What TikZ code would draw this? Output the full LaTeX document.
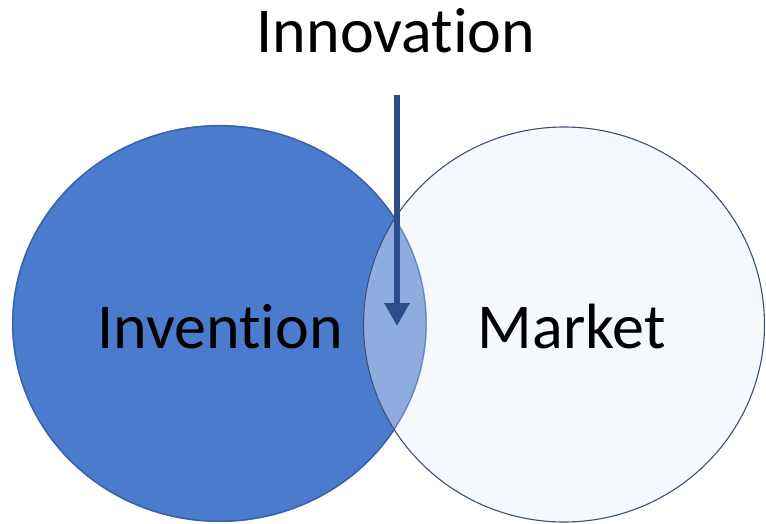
\documentclass[tikz,border=0pt]{standalone}
\usepackage{fontspec}
\setmainfont{Carlito}[Ligatures={NoCommon,NoRequired,NoContextual}]
\usetikzlibrary{arrows.meta,shadings}
\definecolor{invblue}{RGB}{74,123,205}
\definecolor{invedge}{RGB}{52,88,150}
\definecolor{mktfill}{RGB}{245,248,252}
\definecolor{mktedge}{RGB}{62,80,118}
\definecolor{overlap}{RGB}{143,172,224}
\definecolor{arrowblue}{RGB}{44,76,138}
\tikzset{
  lbl/.style={font=\fontsize{64}{70}\selectfont, anchor=base, inner sep=0pt, text=black},
}
\begin{document}
\begin{tikzpicture}[x=1pt,y=-1pt]
\useasboundingbox (0,0) rectangle (766,524);
% left circle (Invention)
\fill[invblue] (219.5,323.5) ellipse [x radius=207.5, y radius=198.5];
\draw[invedge, line width=1.2pt, opacity=0.6] (219.5,323.5) ellipse [x radius=207, y radius=198];
% right circle (Market)
\fill[mktfill] (564,324.5) ellipse [x radius=200.5, y radius=197.5];
% overlap
\begin{scope}
  \clip (219.5,323.5) ellipse [x radius=207.5, y radius=198.5];
  \fill[overlap] (564,324.5) ellipse [x radius=200.5, y radius=197.5];
  \draw[invedge, line width=1pt, opacity=0.5] (219.5,323.5) ellipse [x radius=206.5, y radius=197.5];
\end{scope}
\draw[mktedge, line width=1.1pt] (564,324.5) ellipse [x radius=200.5, y radius=197.5];
% labels
\node[lbl] (inv) at (220,348) {Invention};
\node[lbl] (mkt) at (571.5,348) {Market};
\node[lbl] (inno) at (396,53) {Innovation};
% arrow
\coordinate (arrtop) at (397,95);
\coordinate (arrtip) at (397,326);
\draw[arrowblue, line width=6pt, -{Triangle[width=24pt,length=23pt]}] (arrtop) -- (arrtip);
\end{tikzpicture}
\end{document}
